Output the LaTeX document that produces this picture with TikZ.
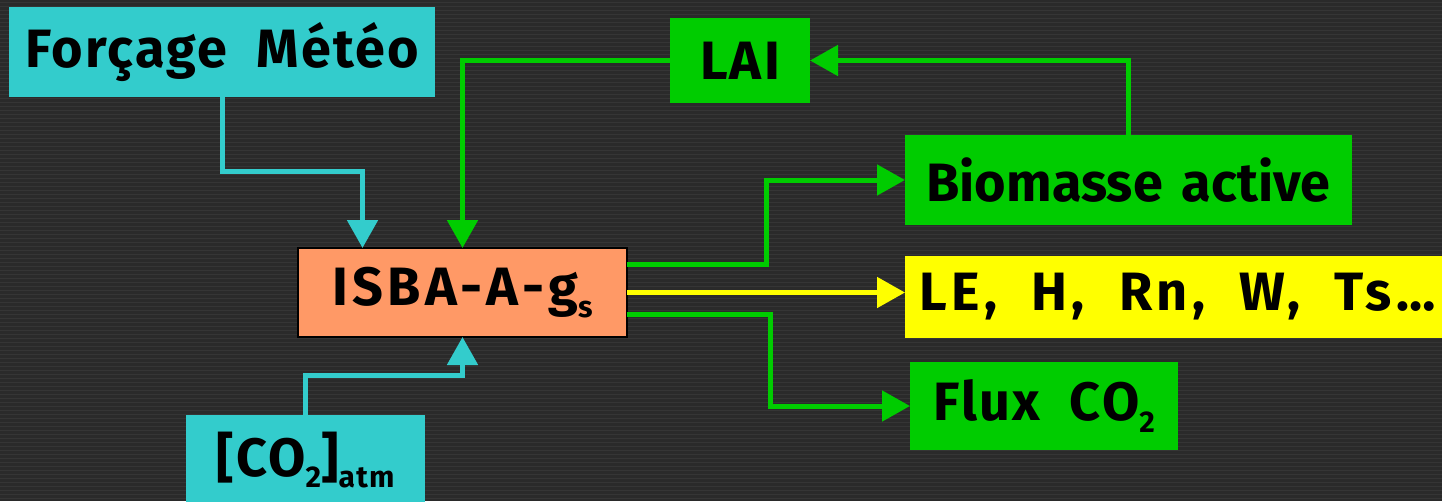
\documentclass[tikz,border=0pt]{standalone}
\usepackage{fontspec}
\setmainfont{Fira Sans}[LetterSpace=4, WordSpace=2]
\newfontfamily\plainfont{Fira Sans}[WordSpace=1.5]
\newfontfamily\widefont{Fira Sans}[LetterSpace=8, WordSpace=2]
\usetikzlibrary{arrows.meta}
\definecolor{bgcol}{HTML}{2A2A2A}
\definecolor{bgline}{HTML}{353535}
\definecolor{cyanbox}{HTML}{33CCCC}
\definecolor{greenbox}{HTML}{00CC00}
\definecolor{orangebox}{HTML}{FF9966}
\definecolor{yellowbox}{HTML}{FFFF00}
\newcommand{\mysub}[1]{\raisebox{-0.22em}{\fontsize{30}{30}\selectfont #1}}
\tikzset{
  box/.style={inner sep=0pt, outer sep=0pt, align=center, text=black,
    font=\fontsize{54}{60}\selectfont\bfseries},
  conn/.style={line width=5pt, -{Triangle[length=28pt,width=30pt]}},
}
\begin{document}
\begin{tikzpicture}[x=1pt,y=-1pt]
\useasboundingbox (0,0) rectangle (1442,501);
\fill[bgcol] (0,0) rectangle (1442,501);
\foreach \yy in {2,6,...,500} \draw[bgline, line width=1pt] (0,\yy) -- (1442,\yy);
% nodes
\node[box, fill=cyanbox, minimum width=426pt, minimum height=90pt] (met) at (222,52) {Forçage Météo};
\node[box, fill=greenbox, minimum width=140pt, minimum height=85pt] (lai) at (740,60.5) {LAI};
\node[box, fill=greenbox, minimum width=447pt, minimum height=90pt] (bio) at (1128.5,180) {\plainfont Biomasse active};
\node[box, fill=orangebox, draw=black, line width=2pt, minimum width=329pt, minimum height=89pt] (isba) at (462.5,292.5) {\widefont ISBA-A-g\mysub{s}};
\node[box, fill=yellowbox, minimum width=545pt, minimum height=82pt] (le) at (1177.5,297) {\widefont LE, H, Rn, W, Ts…};
\node[box, fill=greenbox, minimum width=268pt, minimum height=88pt] (flux) at (1044,406) {Flux CO\mysub{2}};
\node[box, fill=cyanbox, minimum width=239pt, minimum height=90pt] (co2) at (305.5,460) {[CO\mysub{2}]\mysub{atm}};
% connectors
\draw[conn, cyanbox] (met.south) -- ++(0,74) -| ([xshift=-100pt]isba.north);
\draw[conn, cyanbox] (co2.north) -- ++(0,-40) -| (isba.south);
\draw[conn, greenbox] (lai.west) -| (isba.north);
\draw[conn, greenbox] (bio.north) |- (lai.east);
\draw[conn, greenbox] ([yshift=28pt]isba.east) -- ++(139,0) |- (bio.west);
\draw[conn, yellowbox] (isba.east) -- (isba.east -| le.west);
\draw[conn, greenbox] ([yshift=-22pt]isba.east) -- ++(143,0) |- (flux.west);
\end{tikzpicture}
\end{document}
